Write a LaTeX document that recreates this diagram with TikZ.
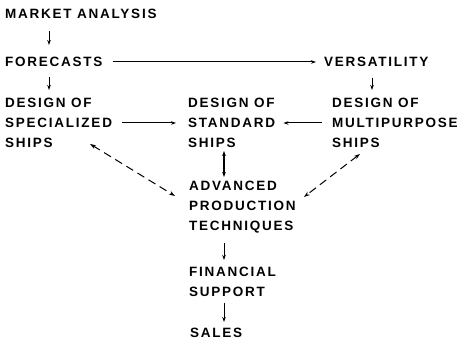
\documentclass[tikz,border=0pt]{standalone}
\usepackage{fontspec}
\usepackage{tikz}
\usetikzlibrary{positioning,calc,arrows.meta}
\newfontfamily\chartfont[LetterSpace=13]{Liberation Sans}

\tikzset{
	lbl/.style={anchor=north west, inner sep=0pt, align=left,
		font=\chartfont\bfseries\fontsize{13.5}{20}\selectfont},
	flow/.style={-{Stealth[length=5pt,width=3.5pt]}, line width=1pt},
	bflow/.style={{Stealth[length=5pt,width=3.5pt]}-{Stealth[length=5pt,width=3.5pt]}, line width=1.2pt},
	dflow/.style={{Stealth[length=6pt,width=4pt]}-{Stealth[length=6pt,width=4pt]},
		line width=1pt, dash pattern=on 8pt off 5pt}
}

\begin{document}
\begin{tikzpicture}[x=1pt, y=-1pt]
	\useasboundingbox (0,0) rectangle (461,344);
	\node[lbl] (ma) at (5,9) {MARKET ANALYSIS};
	\node[lbl] (fc) at (5,57) {FORECASTS};
	\node[lbl] (vers) at (324,57) {VERSATILITY};
	\node[lbl] (dspec) at (5,98) {DESIGN OF\\SPECIALIZED\\SHIPS};
	\node[lbl] (dstd) at (188,98) {DESIGN OF\\STANDARD\\SHIPS};
	\node[lbl] (dmulti) at (332,98) {DESIGN OF\\MULTIPURPOSE\\SHIPS};
	\node[lbl] (adv) at (189,181) {ADVANCED\\PRODUCTION\\TECHNIQUES};
	\node[lbl] (fin) at (189,267) {FINANCIAL\\SUPPORT};
	\node[lbl] (sales) at (190,328) {SALES};
	\coordinate (lspine) at (49,0);
	\coordinate (mspine) at (224,0);
	\coordinate (rspine) at (372,0);
	\draw[flow, shorten <=12pt, shorten >=12pt] (ma.south -| lspine) -- (fc.north -| lspine);
	\draw[flow, shorten <=10pt, shorten >=8pt] (fc.south -| lspine) -- (dspec.north -| lspine);
	\draw[flow, shorten <=10pt, shorten >=8pt] (fc.east) -- (vers.west);
	\draw[flow, shorten <=11pt, shorten >=8pt] (vers.south -| rspine) -- (dmulti.north -| rspine);
	\draw[flow, shorten <=10pt, shorten >=12pt] (dspec.east) -- (dstd.west);
	\draw[flow, shorten <=10pt, shorten >=8pt] (dmulti.west) -- (dstd.east);
	\draw[bflow, shorten <=3pt, shorten >=4pt] (dstd.south -| mspine) -- (adv.north -| mspine);
	\draw[flow, shorten <=10pt, shorten >=7pt] (adv.south -| mspine) -- (fin.north -| mspine);
	\draw[flow, shorten <=6pt, shorten >=6pt] (fin.south -| mspine) -- (sales.north -| mspine);
	\draw[dflow] ($(dspec.south west)+(85,-4)$) -- ($(adv.north west)+(-14,15)$);
	\draw[dflow] ($(dmulti.south west)+(28,6)$) -- ($(adv.north east)+(8,16)$);
\end{tikzpicture}
\end{document}
